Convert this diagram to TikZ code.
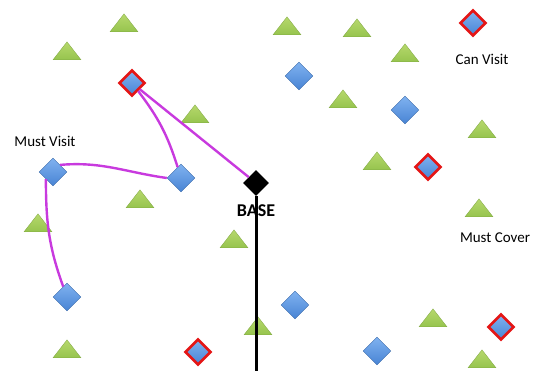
\documentclass[tikz,border=0pt]{standalone}
\usepackage{fontspec}
\setmainfont{Carlito}
\usetikzlibrary{shapes.geometric}
\definecolor{tourgreen}{RGB}{150,196,78}
\definecolor{tourgreenlt}{RGB}{182,216,108}
\definecolor{tourblue}{RGB}{72,132,212}
\definecolor{tourbluelt}{RGB}{128,178,240}
\definecolor{tourred}{RGB}{228,22,22}
\definecolor{tourpath}{RGB}{200,58,222}

\begin{document}
\begin{tikzpicture}[x=1pt, y=1pt,
  every node/.style={font=\fontsize{15}{17}\selectfont},
  cover/.style={isosceles triangle, isosceles triangle stretches, shape border rotate=90,
    minimum width=28pt, minimum height=18pt, inner sep=0pt,
    top color=tourgreenlt, bottom color=tourgreen, draw=tourgreen!85!black, line width=0.3pt},
  visit/.style={diamond, minimum size=28pt, inner sep=0pt,
    top color=tourbluelt, bottom color=tourblue, draw=tourblue!80!black, line width=0.4pt},
  canvisit/.style={visit, minimum size=26pt, draw=tourred, line width=2.6pt},
  tour/.style={tourpath, line width=2.4pt}]
  \useasboundingbox (0,0) rectangle (539,-371);

  % areas to cover
  \foreach \x/\y [count=\i] in {124/25, 67/53, 195/116, 287/28, 357/30, 405/55, 343/101,
      482/131, 377/163, 140/201, 38/225, 234/241, 479/210, 258/328, 67/351, 433/320, 482/361}
    \node[cover] (mc\i) at (\x,-\y) {};

  % points to visit
  \node[visit] (mv1) at (53,-172) {};
  \node[visit] (mv2) at (181,-178) {};
  \node[visit] (mv3) at (67,-297) {};
  \node[visit] (mv4) at (299,-76) {};
  \node[visit] (mv5) at (405,-110) {};
  \node[visit] (mv6) at (295,-305) {};
  \node[visit] (mv7) at (377,-351) {};
  \node[canvisit] (cv1) at (132,-83) {};
  \node[canvisit] (cv2) at (473,-23) {};
  \node[canvisit] (cv3) at (428,-167) {};
  \node[canvisit] (cv4) at (198,-352) {};
  \node[canvisit] (cv5) at (501,-327) {};
  \node[diamond, fill=black, minimum size=26pt, inner sep=0pt] (base) at (256,-183) {};
  \coordinate (bottom) at (256,-371);

  \node (mvlabel) at (45,-141) {Must Visit};
  \node (cvlabel) at (482,-59) {Can Visit};
  \node (mclabel) at (495,-238) {Must Cover};
  \node[font=\fontsize{18}{20}\selectfont\bfseries] (baselabel) at (256,-211) {BASE};

  % tour
  \draw[black, line width=3pt] (base) -- (bottom);
  \draw[tour] (cv1) -- (base);
  \draw[tour] (cv1) to[bend left=10] (mv2);
  \draw[tour] (mv2.west) to[out=172, in=5] (mv1.north east);
  \draw[tour] (mv1.south west) to[out=-90, in=110] (mv3);
\end{tikzpicture}
\end{document}
